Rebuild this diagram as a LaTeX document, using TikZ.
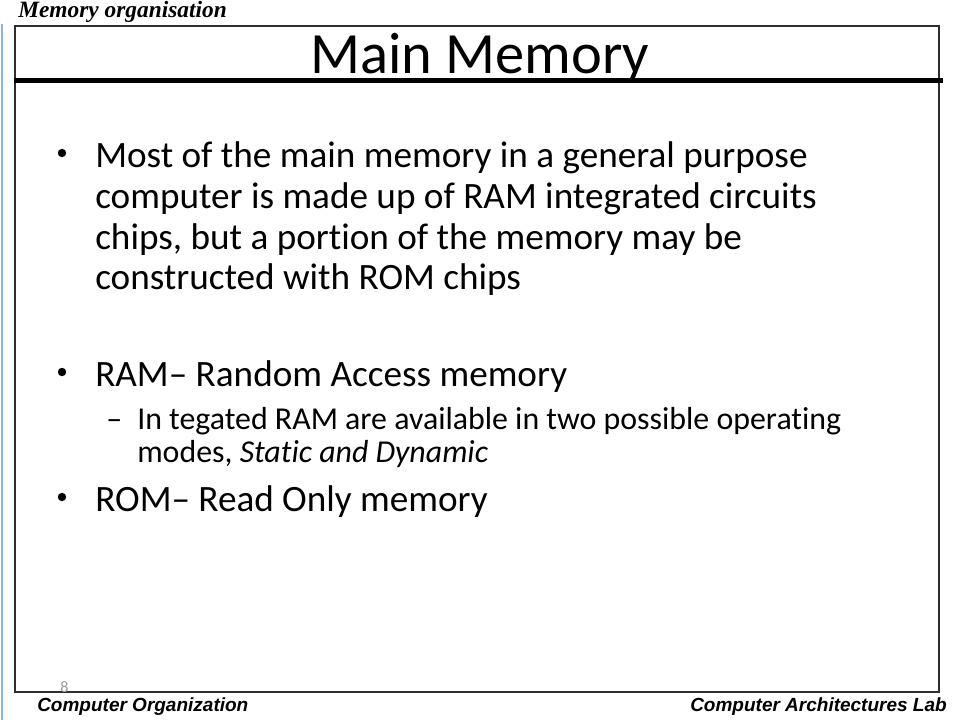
\documentclass[tikz,border=0pt]{standalone}
\usepackage{fontspec}
\setmainfont{Carlito}[Ligatures=NoCommon]
\newfontfamily\footfont{Liberation Sans}
\newfontfamily\headfont{Liberation Serif}
\usetikzlibrary{positioning}
\definecolor{frameblue}{HTML}{8EB4E3}
\definecolor{framegray}{HTML}{2E2E2E}

\begin{document}
\begin{tikzpicture}[x=0.75bp, y=-0.75bp,
    line/.style={anchor=base west, inner sep=0pt, font=\fontsize{28}{30}\selectfont},
    subline/.style={anchor=base west, inner sep=0pt, font=\fontsize{24}{26}\selectfont},
    dotmark/.style={circle, fill=black, inner sep=0pt, minimum size=6.3bp},
    tag/.style={anchor=base west, inner sep=0pt, font=\footfont\bfseries\itshape\fontsize{14.3}{16}\selectfont}]

    \useasboundingbox (0,0) rectangle (960,720);

    % Left rule and slide frame
    \draw[frameblue, line width=1.5bp] (1.5,24) -- (1.5,720);
    \draw[framegray, line width=1.5bp] (14.5,26) rectangle (939,692);
    \draw[black, line width=3.5bp] (14,80.5) -- (943,80.5);

    % Header and footer tags
    \node[anchor=base west, inner sep=0pt, font=\headfont\bfseries\itshape\fontsize{17.6}{19}\selectfont] (chapter) at (18,17) {Memory organisation};
    \node[tag] (course) at (37,711) {Computer Organization};
    \node[tag] (lab) at (690,711) {Computer Architectures Lab};
    \node[anchor=base west, inner sep=0pt, gray!80, font=\fontsize{12}{14}\selectfont] (pagenum) at (60,692) {8};

    % Title
    \node[anchor=base, inner sep=0pt, font=\fontsize{44}{48}\selectfont] (title) at (480,73) {Main Memory};

    % First bullet
    \node[dotmark] (dot1) at (62,153) {};
    \foreach \y/\t [count=\i] in {167/{Most of the main memory in a general purpose},
        208/{computer is made up of RAM integrated circuits},
        249/{chips, but a portion of the memory may be},
        289/{constructed with ROM chips}}
        \node[line] (para\i) at (95,\y) {\t};

    % RAM bullet
    \node[dotmark] (dot2) at (62,372) {};
    \node[line] (ram) at (95,386) {RAM– Random Access memory};
    \node[subline] (dash) at (106,429) {–};
    \node[subline] (sub1) at (137,429) {In tegated RAM are available in two possible operating};
    \node[subline] (sub2) at (137,462) {modes, \textit{Static and Dynamic}};

    % ROM bullet
    \node[dotmark] (dot3) at (62,497) {};
    \node[line] (rom) at (95,511) {ROM– Read Only memory};
\end{tikzpicture}
\end{document}
